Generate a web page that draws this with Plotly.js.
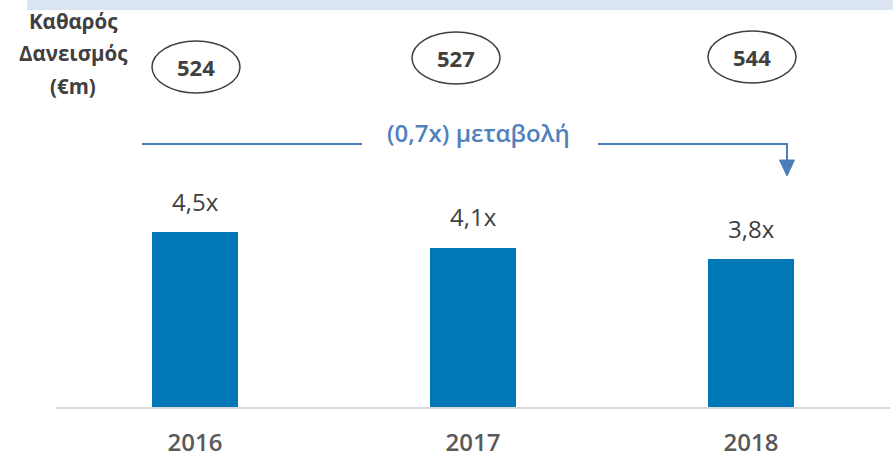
<!DOCTYPE html>
<html>
<head>
<meta charset="utf-8">
<script src="https://cdn.plot.ly/plotly-3.0.1.min.js"></script>
<style>html,body{margin:0;padding:0;background:#fff;}#chart{width:893px;height:460px;}</style>
</head>
<body>
<div id="chart"></div>
<script>
// ---- data ----
const years = ['2016', '2017', '2018'];
const leverage = [4.5, 4.1, 3.8];          // net debt / EBITDA multiple
const netDebt = [524, 527, 544];            // €m
const changeLabel = '(0,7x) μεταβολή';
const sideTitle = ['Καθαρός', 'Δανεισμός', '(€m)'];

// ---- layout helpers (pixel -> paper) ----
const W = 893, H = 460;
const mL = 56, mR = 3, mT = 0, mB = 53;
const pw = W - mL - mR, ph = H - mT - mB;
const PX = px => (px - mL) / pw;
const PY = py => (H - mB - py) / ph;

const FONT = '"Open Sans", "DejaVu Sans", sans-serif';
const fmt = v => v.toFixed(1).replace('.', ',') + 'x';

const bar = {
  type: 'bar',
  x: years,
  y: leverage,
  width: 0.31,
  marker: {color: '#0077B6'},
  hoverinfo: 'skip'
};

const annotations = [];
// value labels above bars (x given as category index)
years.forEach((yr, i) => {
  annotations.push({
    xref: 'x', yref: 'y', x: i, y: leverage[i],
    text: fmt(leverage[i]), showarrow: false,
    xanchor: 'center', yanchor: 'middle', yshift: 31,
    font: {family: FONT, size: 24, color: '#404040'}
  });
});
// net debt ellipses text
const ellCenters = [[196, 67], [456, 58], [752, 57]];
const ellW = 88, ellH = 52;
netDebt.forEach((v, i) => {
  annotations.push({
    xref: 'paper', yref: 'paper', x: PX(ellCenters[i][0]), y: PY(ellCenters[i][1]),
    text: '<b>' + v + '</b>', showarrow: false, xanchor: 'center', yanchor: 'middle',
    font: {family: FONT, size: 22, color: '#404040'}
  });
});
// side title
const sideY = [21, 53, 86];
sideTitle.forEach((t, i) => {
  annotations.push({
    xref: 'paper', yref: 'paper', x: PX(73), y: PY(sideY[i]),
    text: '<b>' + t + '</b>', showarrow: false, xanchor: 'center', yanchor: 'middle',
    font: {family: FONT, size: 20.5, color: '#404040'}
  });
});
// change label
annotations.push({
  xref: 'paper', yref: 'paper', x: PX(479), y: PY(132),
  text: changeLabel, showarrow: false, xanchor: 'center', yanchor: 'middle',
  font: {family: FONT, size: 24, color: '#4F81BD', weight: 600}
});

const blue = '#4A7EBB';
const shapes = [
  // top band
  {type: 'rect', xref: 'paper', yref: 'paper', x0: PX(27), x1: PX(893), y0: PY(0), y1: PY(10),
   fillcolor: '#DBE5F1', line: {width: 0}, layer: 'above'},
  // connector lines
  {type: 'line', xref: 'paper', yref: 'paper', x0: PX(142), x1: PX(362), y0: PY(144), y1: PY(144),
   line: {color: blue, width: 2}},
  {type: 'line', xref: 'paper', yref: 'paper', x0: PX(598), x1: PX(788), y0: PY(144), y1: PY(144),
   line: {color: blue, width: 2}},
  {type: 'line', xref: 'paper', yref: 'paper', x0: PX(787), x1: PX(787), y0: PY(143), y1: PY(162),
   line: {color: blue, width: 2}},
  {type: 'path', xref: 'paper', yref: 'paper',
   path: `M ${PX(779.5)} ${PY(160)} L ${PX(794.5)} ${PY(160)} L ${PX(787)} ${PY(176)} Z`,
   fillcolor: blue, line: {color: blue, width: 1}}
];
ellCenters.forEach(c => {
  shapes.push({type: 'circle', xref: 'paper', yref: 'paper',
    x0: PX(c[0] - ellW / 2), x1: PX(c[0] + ellW / 2),
    y0: PY(c[1] + ellH / 2), y1: PY(c[1] - ellH / 2),
    line: {color: '#404040', width: 1.5}, fillcolor: 'rgba(0,0,0,0)'});
});

const layout = {
  width: W, height: H,
  margin: {l: mL, r: mR, t: mT, b: mB, pad: 0},
  paper_bgcolor: '#ffffff', plot_bgcolor: '#ffffff',
  showlegend: false,
  bargap: 0,
  xaxis: {
    type: 'category', range: [-0.5, 2.5],
    showline: true, linecolor: '#D9D9D9', linewidth: 2,
    ticks: 'outside', ticklen: 13, tickcolor: 'rgba(0,0,0,0)',
    tickfont: {family: FONT, size: 24, color: '#595959', weight: 600},
    showgrid: false, zeroline: false, fixedrange: true
  },
  yaxis: {visible: false, range: [0, 407 / 38.89], showgrid: false, zeroline: false, fixedrange: true},
  annotations: annotations,
  shapes: shapes
};

Plotly.newPlot('chart', [bar], layout, {displayModeBar: false, staticPlot: true});
</script>
</body>
</html>
